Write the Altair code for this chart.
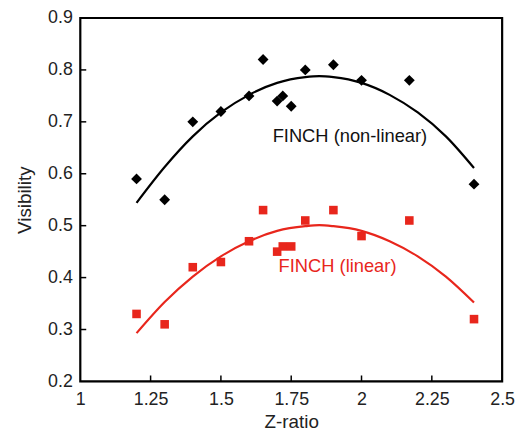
import altair as alt
import pandas as pd

# Measured points
z_ratio = [1.2, 1.3, 1.4, 1.5, 1.6, 1.65, 1.7, 1.72, 1.75, 1.8, 1.9, 2.0, 2.17, 2.4]
vis_nonlinear = [0.59, 0.55, 0.70, 0.72, 0.75, 0.82, 0.74, 0.75, 0.73, 0.80, 0.81, 0.78, 0.78, 0.58]
vis_linear = [0.33, 0.31, 0.42, 0.43, 0.47, 0.53, 0.45, 0.46, 0.46, 0.51, 0.53, 0.48, 0.51, 0.32]

# Fitted curves
fit_z = [1.2, 1.3, 1.4, 1.5, 1.6, 1.7, 1.8, 1.85, 1.9, 2.0, 2.1, 2.2, 2.3, 2.4]
fit_nonlinear = [0.544, 0.613, 0.672, 0.718, 0.752, 0.775, 0.786, 0.788, 0.786, 0.775, 0.752, 0.718, 0.672, 0.611]
fit_linear = [0.293, 0.353, 0.402, 0.441, 0.470, 0.490, 0.499, 0.501, 0.499, 0.490, 0.470, 0.441, 0.402, 0.352]

# Annotations
label_text = ["FINCH (non-linear)", "FINCH (linear)"]
label_x = [1.684, 1.705]
label_y = [0.673, 0.422]
label_color = ["#111111", "#e8261c"]

x_ticks = [1, 1.25, 1.5, 1.75, 2, 2.25, 2.5]
y_ticks = [0.2, 0.3, 0.4, 0.5, 0.6, 0.7, 0.8, 0.9]

RED = "#e8261c"
FONT = "Liberation Sans"
W, H = 426, 367

pts = pd.DataFrame({"z": z_ratio, "nl": vis_nonlinear, "lin": vis_linear})
fit = pd.DataFrame({"z": fit_z, "nl": fit_nonlinear, "lin": fit_linear})
lab = pd.DataFrame({"t": label_text, "x": label_x, "y": label_y, "c": label_color})
xt = pd.DataFrame({"v": x_ticks[1:-1]})
yt = pd.DataFrame({"v": y_ticks[1:-1]})
frame_df = pd.DataFrame({"k": [0]})

xscale = alt.Scale(domain=[1, 2.5], nice=False, zero=False)
yscale = alt.Scale(domain=[0.2, 0.9], nice=False, zero=False)

xaxis = alt.Axis(values=x_ticks, title="Z-ratio", domain=False, ticks=False, grid=False,
                 labelExpr="datum.value", labelFontSize=18, labelPadding=9, labelFlush=False,
                 titleFontSize=19, titlePadding=5, labelColor="#222", titleColor="#222",
                 labelFont=FONT, titleFont=FONT, titleFontWeight="normal")
yaxis = alt.Axis(values=y_ticks, title="Visibility", domain=False, ticks=False, grid=False,
                 format=".1f", labelFontSize=18, labelPadding=8, labelFlush=False,
                 titleFontSize=19, titlePadding=13, labelColor="#222", titleColor="#222",
                 labelFont=FONT, titleFont=FONT, titleFontWeight="normal")

base = alt.Chart(pts)

black_pts = base.mark_point(shape="diamond", filled=True, size=120, color="#000", opacity=1).encode(
    x=alt.X("z:Q", scale=xscale, axis=xaxis),
    y=alt.Y("nl:Q", scale=yscale, axis=yaxis),
)
red_pts = base.mark_square(size=75, color=RED, opacity=1).encode(
    x=alt.X("z:Q", scale=xscale),
    y=alt.Y("lin:Q", scale=yscale),
)
black_line = alt.Chart(fit).mark_line(color="#000", strokeWidth=2.2, interpolate="monotone").encode(
    x=alt.X("z:Q", scale=xscale), y=alt.Y("nl:Q", scale=yscale))
red_line = alt.Chart(fit).mark_line(color=RED, strokeWidth=2.2, interpolate="monotone").encode(
    x=alt.X("z:Q", scale=xscale), y=alt.Y("lin:Q", scale=yscale))

labels = alt.Chart(lab).mark_text(align="left", baseline="middle", fontSize=18.5, font=FONT).encode(
    x=alt.X("x:Q", scale=xscale), y=alt.Y("y:Q", scale=yscale),
    text="t:N", color=alt.Color("c:N", scale=None))

xtick_marks = alt.Chart(xt).mark_rule(color="#000", strokeWidth=1.5).encode(
    x=alt.X("v:Q", scale=xscale), y=alt.value(H), y2=alt.value(H - 6))
ytick_marks = alt.Chart(yt).mark_rule(color="#000", strokeWidth=1.5).encode(
    y=alt.Y("v:Q", scale=yscale), x=alt.value(0), x2=alt.value(6))

frame = alt.Chart(frame_df).mark_rect(fill="transparent", stroke="#000", strokeWidth=2.2).encode(
    x=alt.value(0), x2=alt.value(W), y=alt.value(0), y2=alt.value(H))

chart = alt.layer(black_line, red_line, black_pts, red_pts, labels, xtick_marks, ytick_marks, frame).properties(
    width=W, height=H,
    autosize=alt.AutoSizeParams(type="none"),
    padding={"left": 73, "top": 8, "right": 14, "bottom": 52},
).configure_view(stroke=None).configure(background="white")

chart.save("out.html", embed_options={"renderer": "svg", "actions": False})
